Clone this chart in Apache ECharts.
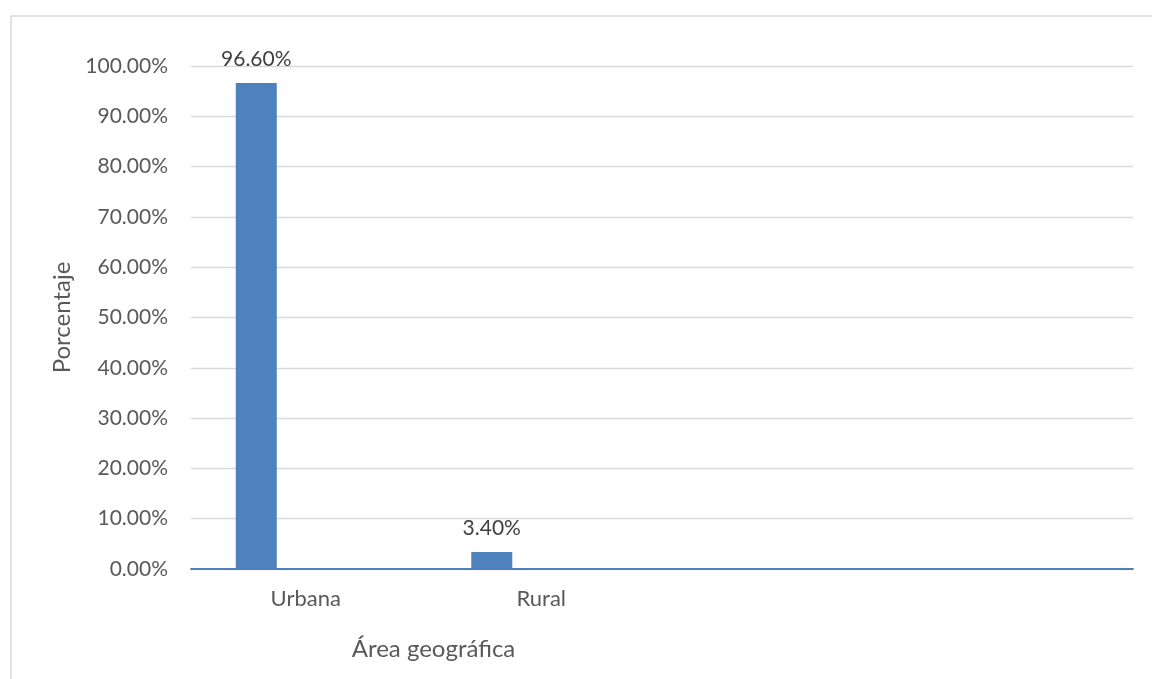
<!DOCTYPE html>
<html>
<head>
<meta charset="utf-8">
<title>Área geográfica</title>
<script src="https://cdn.jsdelivr.net/npm/echarts@6/dist/echarts.min.js"></script>
<style>
  html, body { margin: 0; padding: 0; background: #ffffff; }
  #chart { width: 1152px; height: 679px; }
</style>
</head>
<body>
<div id="chart"></div>
<script>
// Share of respondents by geographic area
const categories = ['Urbana', 'Rural', '', ''];
const porcentaje = [96.6, 3.4, null, null];
const yTicks = [0, 10, 20, 30, 40, 50, 60, 70, 80, 90, 100];

const FONT = 'Lato, "Open Sans", sans-serif';
const TEXT = '#595959';
const BLUE = '#4F81BD';

const chart = echarts.init(document.getElementById('chart'), null, { renderer: 'canvas' });

chart.setOption({
  animation: false,
  backgroundColor: '#ffffff',
  textStyle: { fontFamily: FONT, color: TEXT },
  graphic: [
    {
      type: 'rect',
      shape: { x: 11, y: 16, width: 1160, height: 700 },
      style: { fill: 'none', stroke: '#D9D9D9', lineWidth: 1.5 },
      silent: true,
      z: -10
    },
    {
      // horizontal axis title
      type: 'text',
      x: 433.5,
      y: 649,
      style: {
        text: 'Área geográfica',
        fontFamily: FONT,
        fontSize: 24,
        fill: TEXT,
        align: 'center',
        verticalAlign: 'middle'
      },
      silent: true
    }
  ],
  grid: { left: 191, right: 19, top: 66, bottom: 110, containLabel: false },
  xAxis: {
    type: 'category',
    data: categories,
    boundaryGap: true,
    axisLine: { show: true, lineStyle: { color: BLUE, width: 1.8 } },
    axisTick: { show: false },
    axisLabel: {
      fontFamily: FONT, fontSize: 22, color: TEXT, margin: 19, interval: 0,
      padding: [0, 6, 0, 0]
    },
    splitLine: { show: false }
  },
  yAxis: {
    type: 'value',
    min: yTicks[0],
    max: yTicks[yTicks.length - 1],
    interval: yTicks[1] - yTicks[0],
    name: 'Porcentaje',
    nameLocation: 'middle',
    nameGap: 115,
    nameRotate: 90,
    nameTextStyle: { fontFamily: FONT, fontSize: 24, color: TEXT },
    axisLine: { show: false },
    axisTick: { show: false },
    axisLabel: {
      fontFamily: FONT, fontSize: 21, color: TEXT, margin: 23,
      formatter: v => v.toFixed(2) + '%'
    },
    splitLine: { show: true, lineStyle: { color: '#D9D9D9', width: 1.3 } }
  },
  series: [
    {
      name: 'Porcentaje',
      type: 'bar',
      data: porcentaje,
      barWidth: 41,
      barGap: '156%',
      itemStyle: { color: BLUE },
      label: {
        show: true,
        position: 'top',
        distance: 13,
        fontFamily: FONT,
        fontSize: 21,
        color: '#404040',
        formatter: p => p.value.toFixed(2) + '%'
      }
    },
    {
      // empty companion series that keeps the cluster slot beside each bar
      name: 'Vacío',
      type: 'bar',
      data: categories.map(() => null),
      barWidth: 41,
      itemStyle: { color: '#C0504D' }
    }
  ]
});
</script>
</body>
</html>
